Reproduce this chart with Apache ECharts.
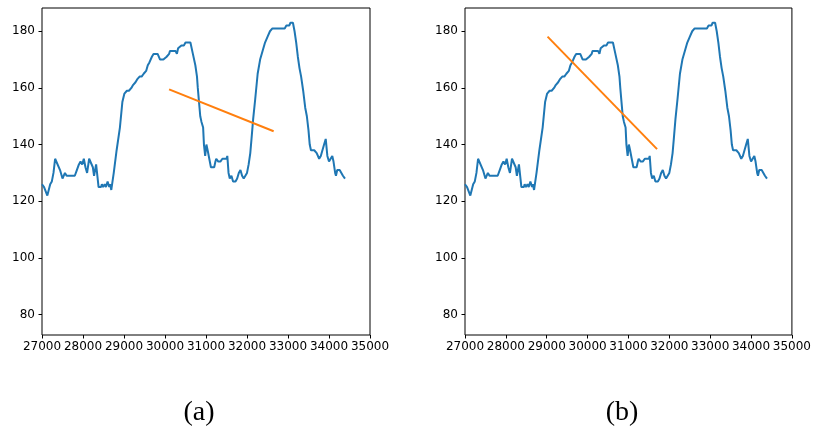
<!DOCTYPE html>
<html>
<head>
<meta charset="utf-8">
<script src="https://cdn.jsdelivr.net/npm/echarts@6/dist/echarts.min.js"></script>
<style>
  html, body { margin: 0; padding: 0; background: #fff; }
  #chart { width: 814px; height: 435px; }
</style>
</head>
<body>
<div id="chart"></div>
<script>
// Heart-rate trace (time in samples, value in bpm)
const timeSamples = [
  27000, 27050, 27130, 27200, 27240, 27280, 27320, 27360, 27440, 27500,
  27560, 27600, 27800, 27850, 27900, 27940, 27980, 28020, 28060, 28100,
  28150, 28190, 28240, 28270, 28320, 28360, 28380, 28440, 28460, 28490,
  28530, 28560, 28600, 28640, 28660, 28690, 28750, 28820, 28900, 28960,
  29010, 29070, 29120, 29180, 29220, 29280, 29320, 29380, 29430, 29480,
  29540, 29580, 29620, 29680, 29720, 29820, 29880, 29960, 30040, 30100,
  30120, 30200, 30260, 30290, 30320, 30360, 30400, 30460, 30500, 30620,
  30680, 30740, 30780, 30800, 30830, 30860, 30890, 30930, 30950, 30980,
  31010, 31040, 31080, 31120, 31200, 31230, 31250, 31300, 31350, 31400,
  31500, 31520, 31550, 31580, 31620, 31660, 31720, 31760, 31800, 31840,
  31880, 31920, 31960, 32000, 32040, 32080, 32110, 32150, 32200, 32260,
  32320, 32380, 32440, 32500, 32560, 32620, 32700, 32800, 32920, 32960,
  33030, 33060, 33120, 33160, 33200, 33240, 33280, 33320, 33370, 33420,
  33460, 33500, 33530, 33560, 33640, 33700, 33760, 33800, 33840, 33880,
  33920, 33960, 34000, 34040, 34080, 34110, 34150, 34170, 34200, 34260,
  34300, 34340, 34390
];
const heartRate = [
  126, 125, 122, 126, 127, 130, 135, 135, 131, 128,
  130, 129, 129, 131, 133, 134, 133, 135, 132, 130,
  135, 135, 132, 129, 133, 133, 125, 125, 126, 125,
  126, 125, 127, 125, 126, 124, 130, 138, 146, 155,
  158, 159, 159, 160, 161, 162, 163, 164, 164, 165,
  166, 168, 169, 171, 172, 172, 170, 170, 171, 172,
  173, 173, 173, 172, 174, 174, 175, 175, 176, 176,
  172, 168, 164, 160, 155, 150, 148, 146, 140, 136,
  140, 138, 135, 132, 132, 134, 135, 134, 134, 135,
  135, 136, 130, 128, 129, 127, 127, 128, 130, 131,
  129, 128, 129, 130, 133, 137, 142, 149, 156, 165,
  170, 173, 176, 178, 180, 181, 181, 181, 181, 182,
  182, 183, 183, 180, 176, 171, 167, 164, 159, 153,
  150, 145, 140, 138, 138, 137, 135, 136, 138, 140,
  142, 136, 134, 134, 136, 134, 130, 129, 131, 131,
  131, 129, 128
];

// Fitted trend segments for panels (a) and (b)
const fitA_time = [30100, 32650];
const fitA_rate = [159.5, 144.7];
const fitB_time = [29020, 31700];
const fitB_rate = [178.1, 138.4];

// Axis ticks
const xTicks = [27000, 28000, 29000, 30000, 31000, 32000, 33000, 34000, 35000];
const yTicks = [80, 100, 120, 140, 160, 180];
const panelLabels = ['(a)', '(b)'];

const BLUE = '#1f77b4';
const ORANGE = '#ff7f0e';
const tickFont = { fontFamily: 'DejaVu Sans', fontSize: 12, color: '#000' };

const zip = (xs, ys) => xs.map((x, i) => [x, ys[i]]);
const trace = zip(timeSamples, heartRate);

const grids = [
  { left: 42, top: 8, width: 328, height: 327 },
  { left: 465, top: 8, width: 329, height: 327 }
].map(g => Object.assign(g, {
  show: true, borderColor: '#000', borderWidth: 1, backgroundColor: 'transparent'
}));

function xAxis(gi) {
  return {
    type: 'value', gridIndex: gi, min: 27000, max: 35000, interval: 1000,
    axisLine: { show: false },
    axisTick: { show: true, inside: false, length: 3.5, lineStyle: { color: '#000', width: 1 } },
    axisLabel: Object.assign({ margin: 6, showMinLabel: true, showMaxLabel: true,
      customValues: xTicks, formatter: v => String(v) }, tickFont),
    splitLine: { show: false }
  };
}
function yAxis(gi) {
  return {
    type: 'value', gridIndex: gi, min: 72.8, max: 188.2,
    axisLine: { show: false },
    axisTick: { show: true, inside: false, length: 3.5, customValues: yTicks,
      lineStyle: { color: '#000', width: 1 } },
    axisLabel: Object.assign({ margin: 7, customValues: yTicks,
      formatter: v => String(v) }, tickFont),
    splitLine: { show: false }
  };
}

function lineSeries(gi, data, color) {
  return {
    type: 'line', xAxisIndex: gi, yAxisIndex: gi, data: data,
    showSymbol: false, symbol: 'none', silent: true, animation: false,
    lineStyle: { color: color, width: 2 }, z: color === ORANGE ? 3 : 2
  };
}

const chart = echarts.init(document.getElementById('chart'), null, { renderer: 'canvas' });
chart.setOption({
  animation: false,
  backgroundColor: '#fff',
  grid: grids,
  xAxis: [xAxis(0), xAxis(1)],
  yAxis: [yAxis(0), yAxis(1)],
  series: [
    lineSeries(0, trace, BLUE),
    lineSeries(0, zip(fitA_time, fitA_rate), ORANGE),
    lineSeries(1, trace, BLUE),
    lineSeries(1, zip(fitB_time, fitB_rate), ORANGE)
  ],
  graphic: [
    { type: 'text', x: 199, y: 413, style: { text: panelLabels[0], x: 0, y: 0,
      align: 'center', verticalAlign: 'middle',
      font: '28px "Liberation Serif"', fill: '#000' } },
    { type: 'text', x: 622, y: 413, style: { text: panelLabels[1], x: 0, y: 0,
      align: 'center', verticalAlign: 'middle',
      font: '28px "Liberation Serif"', fill: '#000' } }
  ]
});
</script>
</body>
</html>
